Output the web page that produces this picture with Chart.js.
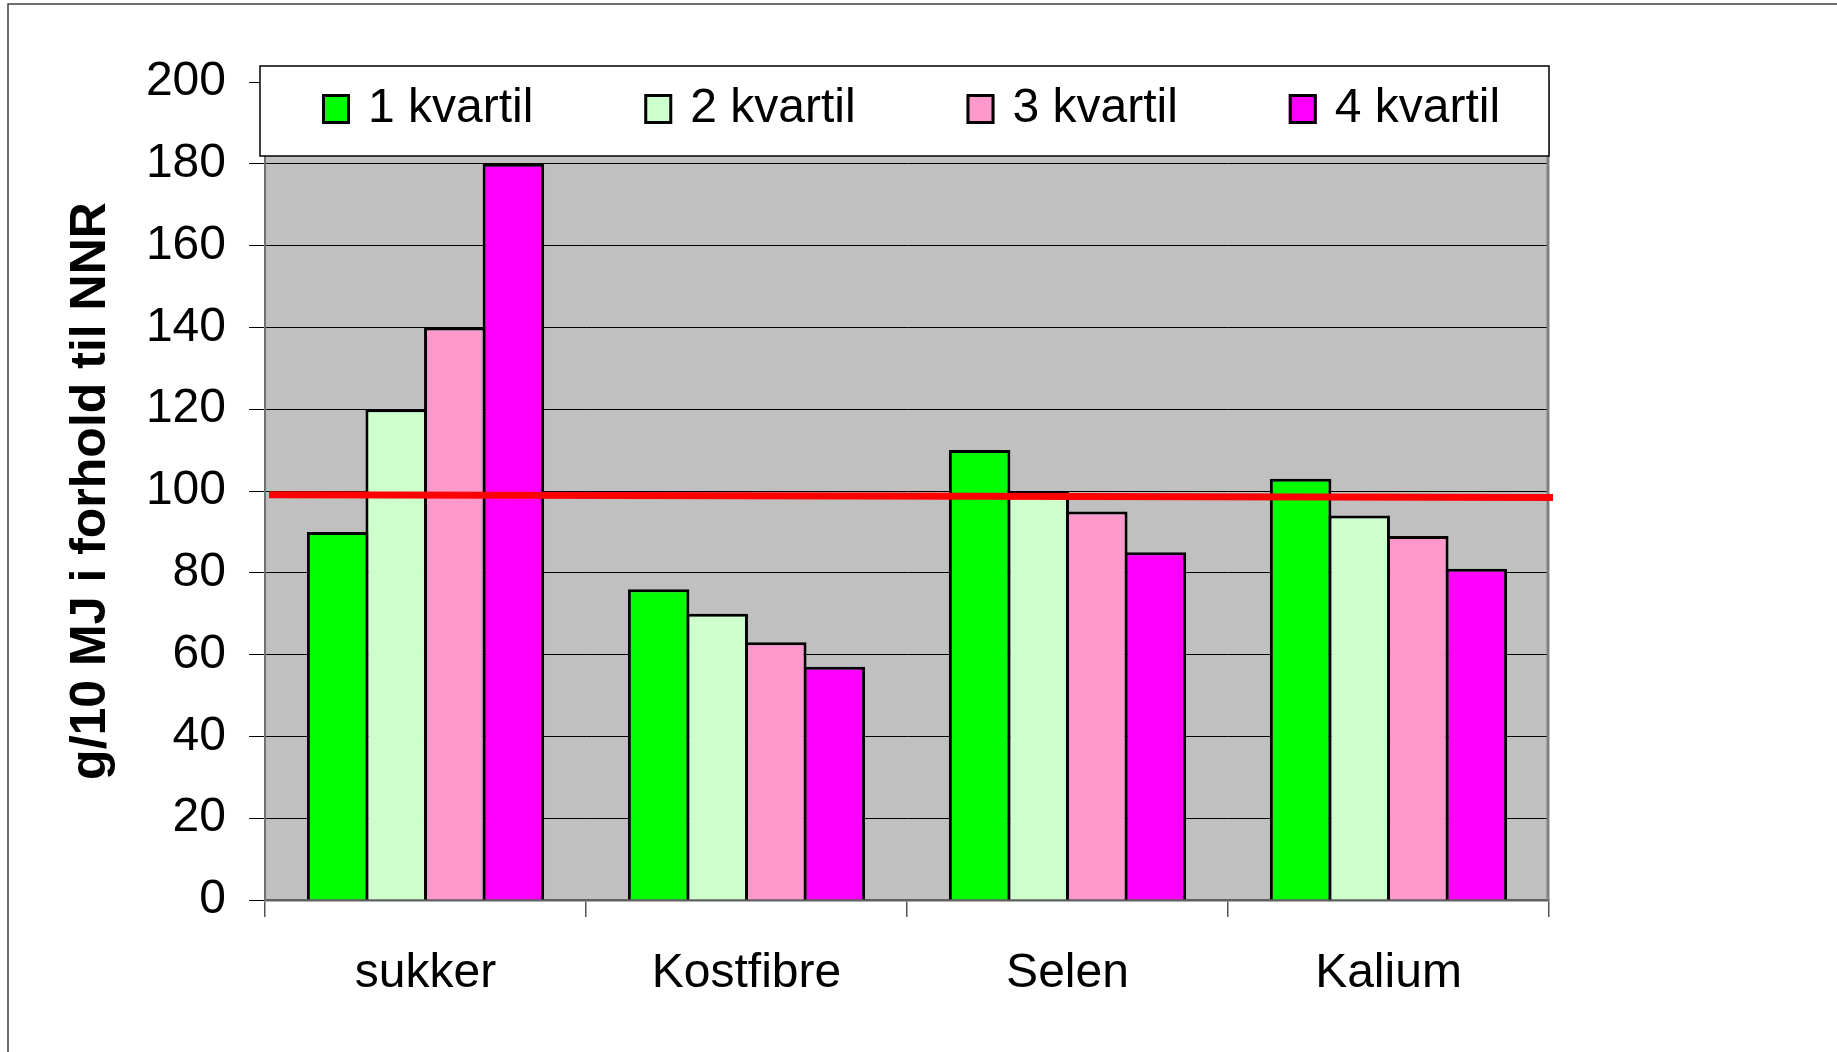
<!DOCTYPE html>
<html><head><meta charset="utf-8">
<script src="https://cdn.jsdelivr.net/npm/chart.js@4"></script>
<style>html,body{margin:0;padding:0;background:#fff;overflow:hidden}
#wrap{position:relative;width:1837px;height:1052px}
#wrap canvas{position:absolute;left:0;top:0}</style>
</head><body>
<div id="wrap">
<canvas id="c" width="1837" height="1052"></canvas>
<canvas id="c2" width="1837" height="1052"></canvas>
</div>
<script>
const categories = ['sukker', 'Kostfibre', 'Selen', 'Kalium'];
const seriesLabels = ['1 kvartil', '2 kvartil', '3 kvartil', '4 kvartil'];
const q1 = [90, 76, 110, 103];
const q2 = [120, 70, 100, 94];
const q3 = [140, 63, 95, 89];
const q4 = [180, 57, 85, 81];
const seriesColors = ['#00FF00', '#CCFFCC', '#FF99CC', '#FF00FF'];
const nnrLabel = 'NNR';
const nnrLine = [99.1, 98.4];
const yTitle = 'g/10 MJ i forhold til NNR';
const yMin = 0, yMax = 200, yStep = 20;

const FONT = "'Liberation Sans', Arial, sans-serif";
const seriesValues = [q1, q2, q3, q4];

const decorPlugin = {
  id: 'decor',
  beforeDraw(chart) {
    const {ctx, chartArea: a} = chart;
    ctx.save();
    ctx.fillStyle = '#fff';
    ctx.fillRect(0, 0, chart.width, chart.height);
    ctx.fillStyle = '#C0C0C0';
    ctx.fillRect(a.left, a.top, a.right - a.left, a.bottom - a.top);
    ctx.strokeStyle = '#404040';
    ctx.lineWidth = 1.5;
    ctx.beginPath();
    ctx.moveTo(8, chart.height);
    ctx.lineTo(8, 4);
    ctx.lineTo(chart.width, 4);
    ctx.stroke();
    ctx.restore();
  },
  afterDatasetsDraw(chart) {
    const {ctx, chartArea: a} = chart;
    ctx.save();
    ctx.strokeStyle = '#808080';
    ctx.lineWidth = 3;
    ctx.beginPath();
    ctx.moveTo(a.right - 1, a.top);
    ctx.lineTo(a.right - 1, a.bottom);
    ctx.stroke();
    ctx.restore();
  },
  afterDraw(chart) {
    const {ctx, chartArea: a} = chart;
    const left = a.left - 5, top = 66, right = a.right, bottom = 156;
    ctx.save();
    ctx.fillStyle = '#fff';
    ctx.fillRect(left, top, right - left, bottom - top);
    ctx.strokeStyle = '#000';
    ctx.lineWidth = 1.5;
    ctx.strokeRect(left, top, right - left, bottom - top);
    const step = (right - left) / seriesLabels.length;
    ctx.font = '48px ' + FONT;
    ctx.textBaseline = 'alphabetic';
    ctx.textAlign = 'left';
    seriesLabels.forEach((lab, i) => {
      const bx = left + 62 + i * step;
      ctx.fillStyle = seriesColors[i];
      ctx.fillRect(bx, 94, 28, 30);
      ctx.strokeStyle = '#000';
      ctx.lineWidth = 3;
      ctx.strokeRect(bx + 1.5, 95.5, 25, 27);
      ctx.fillStyle = '#000';
      ctx.fillText(lab, bx + 46, 122);
    });
    ctx.restore();
  }
};

const datasets = seriesValues.map((vals, i) => ({
  label: seriesLabels[i],
  data: vals,
  backgroundColor: seriesColors[i],
  borderColor: '#000',
  borderWidth: 3,
  borderSkipped: 'start',
  categoryPercentage: 0.73,
  barPercentage: 1.05
}));

new Chart(document.getElementById('c'), {
  type: 'bar',
  data: {labels: categories, datasets},
  plugins: [decorPlugin],
  options: {
    responsive: false,
    animation: false,
    layout: {padding: {left: 8, top: 82, right: 288, bottom: 0}},
    plugins: {legend: {display: false}, tooltip: {enabled: false}},
    scales: {
      x: {
        type: 'category',
        position: 'bottom',
        offset: true,
        grid: {display: true, drawOnChartArea: false, offset: true, tickLength: 17, color: '#555', lineWidth: 1.5},
        border: {display: true, color: '#606060', width: 2.5},
        ticks: {font: {family: FONT, size: 48}, color: '#000', padding: 28, maxRotation: 0},
        afterFit(s) { s.height = 152; }
      },
      y: {
        type: 'linear',
        position: 'left',
        min: yMin, max: yMax,
        ticks: {stepSize: yStep, font: {family: FONT, size: 48}, color: '#000', padding: 23},
        grid: {color: '#000', lineWidth: 1, tickLength: 16, tickColor: '#000'},
        border: {display: true, color: '#707070', width: 2},
        title: {display: true, text: yTitle, font: {family: FONT, size: 50, weight: 'bold'}, color: '#000', padding: {top: 53, bottom: 0}},
        afterFit(s) { s.width = 257; }
      }
    }
  }
});

// NNR reference line, drawn on an overlay chart sharing the same value range
new Chart(document.getElementById('c2'), {
  type: 'line',
  data: {
    datasets: [{
      label: nnrLabel,
      data: [{x: 0, y: nnrLine[0]}, {x: 1, y: nnrLine[1]}],
      borderColor: '#FF0000',
      borderWidth: 7,
      borderCapStyle: 'butt',
      pointRadius: 0,
      fill: false,
      clip: false
    }]
  },
  options: {
    responsive: false,
    animation: false,
    layout: {padding: {left: 269, top: 82, right: 284, bottom: 152}},
    plugins: {legend: {display: false}, tooltip: {enabled: false}},
    scales: {
      x: {type: 'linear', display: false, min: 0, max: 1, offset: false},
      y: {type: 'linear', display: false, min: yMin, max: yMax}
    }
  }
});
</script>
</body></html>
